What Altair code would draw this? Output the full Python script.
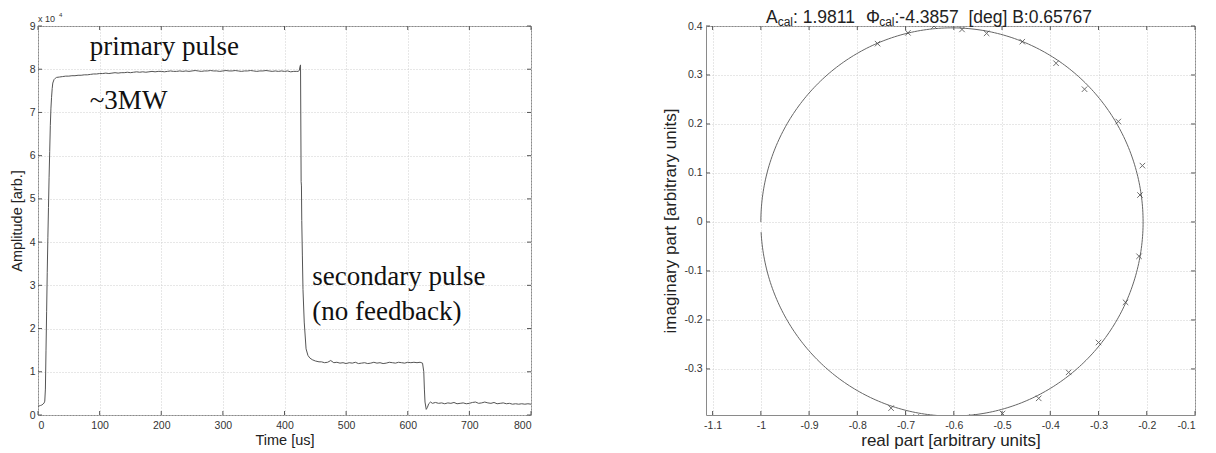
import altair as alt
import numpy as np
import pandas as pd

# ---------------- left panel: pulse amplitude vs time ----------------
time_us = [0, 2, 4, 6, 8, 10, 11, 12, 13, 14, 15, 16, 17, 18, 19, 20, 21, 22, 23, 24, 26, 28, 30,
           35, 40, 45, 50, 55, 60, 65, 70, 75, 80, 85, 90, 95, 100, 105, 110, 115, 120, 125, 130,
           135, 140, 145, 150, 155, 160, 165, 170, 175, 180, 185, 190, 195, 200, 205, 210, 215,
           220, 225, 230, 235, 240, 245, 250, 255, 260, 265, 270, 275, 280, 285, 290, 295, 300,
           305, 310, 315, 320, 325, 330, 335, 340, 345, 350, 355, 360, 365, 370, 375, 380, 385,
           390, 395, 400, 405, 410, 415, 420, 422, 424, 425, 426, 427, 427.5, 428, 429, 430, 432,
           435, 438, 441, 445, 450, 456,
           460, 465, 470, 475, 480, 485, 490, 495, 500, 505, 510, 515, 520, 525, 530, 535, 540,
           545, 550, 555, 560, 565, 570, 575, 580, 585, 590, 595, 600, 605, 610, 615, 620,
           624, 626, 627, 628, 630, 632, 634, 637, 640,
           645, 650, 655, 660, 665, 670, 675, 680, 685, 690, 695, 700, 705, 710, 715, 720, 725,
           730, 735, 740, 745, 750, 755, 760, 765, 770, 775, 780, 785, 790, 795, 800]
amp_e4 = [0.20, 0.21, 0.22, 0.23, 0.25, 0.28, 0.32, 0.60, 1.50, 2.40, 3.30, 4.10, 4.80, 5.50, 6.10,
          6.70, 7.10, 7.35, 7.55, 7.68, 7.76, 7.79, 7.81,
          7.82, 7.83, 7.84, 7.84, 7.85, 7.85, 7.86, 7.86, 7.87, 7.87, 7.88, 7.89, 7.89, 7.90, 7.90,
          7.91, 7.90, 7.91, 7.92, 7.91, 7.92, 7.92, 7.93, 7.92, 7.93, 7.94, 7.93, 7.94, 7.93, 7.94,
          7.95, 7.94, 7.95, 7.95, 7.94, 7.95, 7.96, 7.95, 7.95, 7.96, 7.95, 7.96, 7.95, 7.96, 7.97,
          7.96, 7.95, 7.96, 7.96, 7.97, 7.96, 7.96, 7.95, 7.96, 7.97, 7.96, 7.96, 7.97, 7.96, 7.95,
          7.96, 7.96, 7.97, 7.96, 7.95, 7.96, 7.96, 7.97, 7.96, 7.95, 7.96, 7.95, 7.96, 7.95, 7.96,
          7.94, 7.95, 7.95, 7.95, 7.97, 8.05, 8.10, 5.40, 5.30, 4.50, 3.70, 2.90, 2.15,
          1.53, 1.38, 1.32, 1.28, 1.25, 1.23,
          1.23, 1.21, 1.22, 1.26, 1.21, 1.22, 1.20, 1.21, 1.19, 1.21, 1.20, 1.22, 1.19, 1.20, 1.21,
          1.19, 1.20, 1.22, 1.20, 1.21, 1.19, 1.20, 1.22, 1.21, 1.20, 1.22, 1.21, 1.20, 1.22, 1.21,
          1.22, 1.21, 1.22,
          1.20, 1.00, 0.60, 0.30, 0.13, 0.18, 0.26, 0.30, 0.27,
          0.29, 0.27, 0.28, 0.26, 0.28, 0.27, 0.29, 0.26, 0.27, 0.28, 0.26, 0.27, 0.29, 0.30, 0.27,
          0.28, 0.30, 0.28, 0.27, 0.29, 0.26, 0.27, 0.28, 0.26, 0.27, 0.25, 0.26, 0.25, 0.26, 0.25,
          0.26, 0.25]

left_xticks = [0, 100, 200, 300, 400, 500, 600, 700, 800]
left_yticks = [0, 1, 2, 3, 4, 5, 6, 7, 8, 9]

annot_text = ["primary pulse", "~3MW", "secondary pulse", "(no feedback)"]
annot_t = [84, 84, 445, 445]
annot_a = [8.33, 7.07, 3.0, 2.2]

# ---------------- right panel: calibration circle ----------------
marker_re = [-0.758, -0.695, -0.641, -0.583, -0.532, -0.458, -0.388, -0.329, -0.259, -0.209,
             -0.214, -0.216, -0.244, -0.300, -0.362, -0.424, -0.499, -0.562, -0.615, -0.678, -0.730]
marker_im = [0.364, 0.386, 0.400, 0.393, 0.385, 0.368, 0.324, 0.271, 0.205, 0.115,
             0.055, -0.070, -0.164, -0.246, -0.307, -0.360, -0.391, -0.398, -0.400, -0.398, -0.380]

# fitted circle (centre, radius, drawn arc)
fit_center_re = -0.6038
fit_center_im = 0.0
fit_radius = 0.3962
fit_start_deg = 183
fit_end_deg = 540

right_xticks = [-1.1, -1.0, -0.9, -0.8, -0.7, -0.6, -0.5, -0.4, -0.3, -0.2, -0.1]
right_yticks = [-0.3, -0.2, -0.1, 0, 0.1, 0.2, 0.3, 0.4]

title_parts = ["A", "cal", ": 1.9811", "\u03a6", "cal", ":-4.3857", "[deg] B:0.65767"]

# ---------------- build tables ----------------
wave = pd.DataFrame({"t": time_us, "a": amp_e4})
annot = pd.DataFrame({"t": annot_t, "a": annot_a, "label": annot_text})
lxt = pd.DataFrame({"t": left_xticks})
lyt = pd.DataFrame({"a": left_yticks})

ang = np.deg2rad(np.linspace(fit_start_deg, fit_end_deg, 400))
circle = pd.DataFrame({
    "re": fit_center_re + fit_radius * np.cos(ang),
    "im": fit_center_im + fit_radius * np.sin(ang),
    "i": np.arange(len(ang)),
})
markers = pd.DataFrame({"re": marker_re, "im": marker_im})
rxt = pd.DataFrame({"re": right_xticks})
ryt = pd.DataFrame({"im": right_yticks})

LW, LH = 493, 389
RW, RH = 489, 389
FONT = "Liberation Sans"
TICK = "#555555"

lx = alt.X("t:Q", scale=alt.Scale(domain=[0, 800], nice=False, zero=False),
           axis=alt.Axis(values=left_xticks, title="Time [us]", labelFontSize=10.5, titleFontSize=14.5,
                         labelPadding=5, titlePadding=3, grid=True))
ly = alt.Y("a:Q", scale=alt.Scale(domain=[0, 9], nice=False),
           axis=alt.Axis(values=left_yticks, title="Amplitude [arb.]", labelFontSize=10.5,
                         titleFontSize=14.5, labelPadding=3, minExtent=11, maxExtent=11,
                         titlePadding=3, grid=True))

l_line = alt.Chart(wave).mark_line(color="#555555", strokeWidth=1).encode(x=lx, y=ly)
l_tb = alt.Chart(lxt).mark_rule(color=TICK).encode(x=lx, y=alt.value(LH), y2=alt.value(LH - 4))
l_tt = alt.Chart(lxt).mark_rule(color=TICK).encode(x=lx, y=alt.value(0), y2=alt.value(4))
l_tl = alt.Chart(lyt).mark_rule(color=TICK).encode(y=ly, x=alt.value(0), x2=alt.value(4))
l_tr = alt.Chart(lyt).mark_rule(color=TICK).encode(y=ly, x=alt.value(LW), x2=alt.value(LW - 4))
l_txt = alt.Chart(annot).mark_text(align="left", baseline="alphabetic", font="Liberation Serif",
                                   fontSize=27, color="#111111").encode(x=lx, y=ly, text="label:N")
l_exp = alt.Chart(pd.DataFrame({"s": ["x 10"]})).mark_text(
    align="left", baseline="alphabetic", font=FONT, fontSize=9, color="#333333").encode(
    x=alt.value(0), y=alt.value(-4), text="s:N")
l_exp4 = alt.Chart(pd.DataFrame({"s": ["4"]})).mark_text(
    align="left", baseline="alphabetic", font=FONT, fontSize=6, color="#333333").encode(
    x=alt.value(21), y=alt.value(-9), text="s:N")

left = alt.layer(l_line, l_tb, l_tt, l_tl, l_tr, l_txt, l_exp, l_exp4).properties(width=LW, height=LH)

rx = alt.X("re:Q", scale=alt.Scale(domain=[-1.1137, -0.1], nice=False, zero=False),
           axis=alt.Axis(values=right_xticks, labelExpr="'' + datum.value",
                         title="real part [arbitrary units]", labelFontSize=10.5, titleFontSize=17,
                         labelPadding=5, titlePadding=2, grid=True))
ry = alt.Y("im:Q", scale=alt.Scale(domain=[-0.394, 0.4], nice=False, zero=False),
           axis=alt.Axis(values=right_yticks, labelExpr="'' + datum.value",
                         title="imaginary part [arbitrary units]", labelFontSize=10.5,
                         titleFontSize=17, labelPadding=4, minExtent=24, maxExtent=24,
                         titlePadding=3, grid=True))

r_circ = alt.Chart(circle).mark_line(color="#666666", strokeWidth=1, clip=True).encode(
    x=rx, y=ry, order="i:Q")
r_pts = alt.Chart(markers).mark_point(shape="M-1,-1L1,1M-1,1L1,-1", size=30, filled=False,
                                      color="#333333", strokeWidth=1, clip=True).encode(x=rx, y=ry)
r_tb = alt.Chart(rxt).mark_rule(color=TICK).encode(x=rx, y=alt.value(RH), y2=alt.value(RH - 4))
r_tt = alt.Chart(rxt).mark_rule(color=TICK).encode(x=rx, y=alt.value(0), y2=alt.value(4))
r_tl = alt.Chart(ryt).mark_rule(color=TICK).encode(y=ry, x=alt.value(0), x2=alt.value(4))
r_tr = alt.Chart(ryt).mark_rule(color=TICK).encode(y=ry, x=alt.value(RW), x2=alt.value(RW - 4))

# title built from pieces so that "cal" can be a subscript
title_x = [60.0, 71.7, 87.0, 159.9, 173.2, 188.5, 262.4]
title_y = [-3, 0, -3, -3, 0, -3, -3]
title_fs = [17.5, 12, 17.5, 17.5, 12, 17.5, 17.5]
title_layers = []
for s, xx, yy, fs in zip(title_parts, title_x, title_y, title_fs):
    title_layers.append(
        alt.Chart(pd.DataFrame({"s": [s]})).mark_text(
            align="left", baseline="alphabetic", font=FONT, fontSize=fs, color="#222222").encode(
            x=alt.value(xx), y=alt.value(yy), text="s:N"))

right = alt.layer(r_circ, r_pts, r_tb, r_tt, r_tl, r_tr, *title_layers).properties(width=RW, height=RH)

chart = alt.hconcat(left, right, spacing=175, bounds="flush").properties(
    padding={"left": 0, "top": 0, "right": 0, "bottom": 0}
).configure_view(stroke="#8a8a8a", strokeWidth=1).configure_axis(
    labelFont=FONT, titleFont=FONT, labelColor="#333333", titleColor="#222222",
    titleFontWeight="normal", domain=False, ticks=False,
    gridColor="#cfcfcf", gridDash=[1, 2], gridWidth=1, gridOpacity=1
)

chart.save("out.html", embed_options={"renderer": "svg", "actions": False})
